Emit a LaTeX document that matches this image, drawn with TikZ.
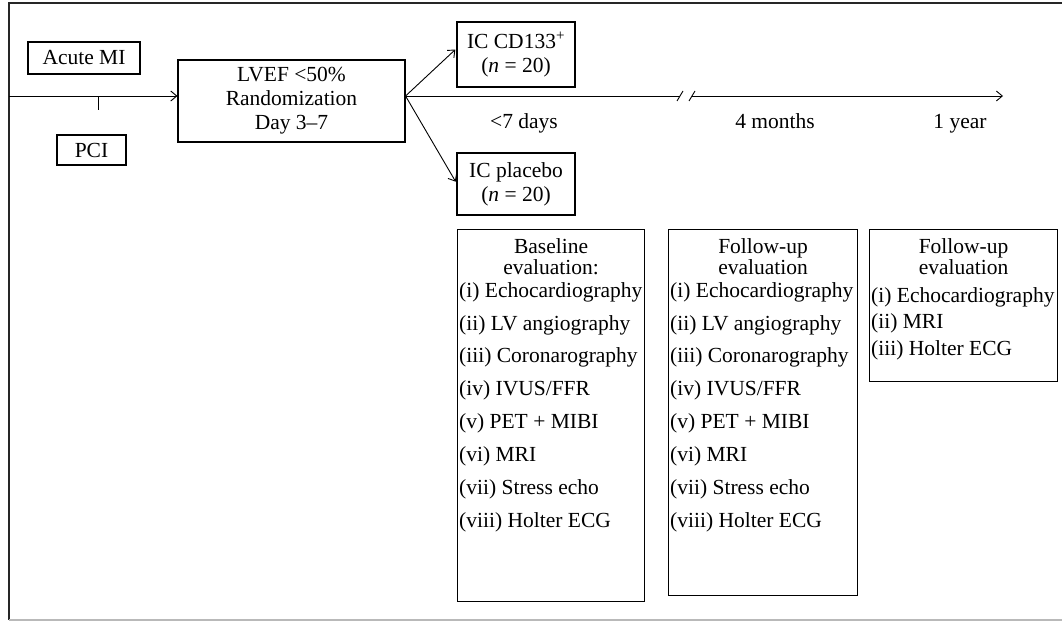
\documentclass[tikz,border=0pt]{standalone}
\usepackage{fontspec}
\setmainfont{Liberation Serif}
\usetikzlibrary{arrows.meta, positioning}

\begin{document}
\begin{tikzpicture}[x=1pt, y=-1pt,
  every node/.style = {font=\fontsize{21.5}{24}\selectfont},
  box/.style = {draw, line width=1.1pt, align=center, inner sep=0pt},
  evalbox/.style = {draw, line width=1.1pt, anchor=north west, inner sep=0pt},
  head/.style = {align=center, inner sep=0pt, font=\fontsize{21.5}{21}\selectfont},
  item/.style = {anchor=west, inner sep=0pt},
  arr/.style = {-{Straight Barb[length=6pt, width=10pt]}, line width=0.9pt},
  lbl/.style = {anchor=base, inner sep=1pt}
]
\useasboundingbox (0,0) rectangle (1062,621);

% ---- frame ----
\draw[line width=1.6pt, black!85] (9,620) -- (9,3) -- (1062,3);
\draw[line width=1.2pt, gray!55] (9,620) -- (1062,620);

% ---- left column ----
\node[box, minimum width=112pt, minimum height=32pt] (acute) at (84,58) {Acute MI};
\node[box, minimum width=69pt, minimum height=30pt]  (pci)   at (91.5,150) {PCI};
\node[box, minimum width=227pt, minimum height=82pt] (lvef)  at (291.5,101)
  {LVEF <50\%\\Randomization\\Day 3--7};

% ---- timeline ----
\coordinate (start) at (9,96);
\coordinate (fork)  at (lvef.east |- start);
\coordinate (brk1)  at (680,96);
\coordinate (brk2)  at (692,96);
\coordinate (tend)  at (1003,96);
\coordinate (tick)  at (98,97);

\draw[arr] (start) -- (start -| lvef.west);
\draw[line width=0.9pt] (tick) -- ++(0,13);
\draw[line width=0.9pt] (fork) -- (brk1);
\draw[line width=0.9pt] ([shift={(-3,5)}]brk1) -- ([shift={(3,-5)}]brk1);
\draw[line width=0.9pt] ([shift={(-3,5)}]brk2) -- ([shift={(3,-5)}]brk2);
\draw[arr] (brk2) -- (tend);

\node[lbl] (d7) at (524,128) {<7 days};
\node[lbl] (m4) at (775,128) {4 months};
\node[lbl] (y1) at (960,128) {1 year};

% ---- study arms ----
\node[box, minimum width=118pt, minimum height=65pt] (cd)      at (516,54.5)
  {IC CD133\textsuperscript{+}\\(\textit{n} = 20)};
\node[box, minimum width=118pt, minimum height=62pt] (placebo) at (516,184)
  {IC placebo\\(\textit{n} = 20)};

\draw[arr, shorten >=1.5pt] (fork) -- ([yshift=6pt]cd.west);
\draw[arr, shorten >=1.5pt] (fork) -- ([yshift=1pt]placebo.west);

% ---- evaluation boxes ----
\node[evalbox, minimum width=187pt, minimum height=372pt] (base) at (457,229) {};
\node[evalbox, minimum width=189pt, minimum height=366pt] (fu1)  at (668,229) {};
\node[evalbox, minimum width=188pt, minimum height=152pt] (fu2)  at (869,229) {};

\node[head] (base-h) at ([yshift=-28pt]base.north) {Baseline\\evaluation:};
\node[head] (fu1-h)  at ([yshift=-28pt]fu1.north)  {Follow-up\\evaluation};
\node[head] (fu2-h)  at ([yshift=-28pt]fu2.north)  {Follow-up\\evaluation};

\foreach \bx/\x in {base/459, fu1/670}
  \foreach \txt [count=\i] in {{(i) Echocardiography}, {(ii) LV angiography},
      {(iii) Coronarography}, {(iv) IVUS/FFR}, {(v) PET + MIBI}, {(vi) MRI},
      {(vii) Stress echo}, {(viii) Holter ECG}}
    \node[item] (\bx-\i) at (\x, {292+32.9*(\i-1)}) {\txt};

\foreach \txt [count=\i] in {{(i) Echocardiography}, {(ii) MRI}, {(iii) Holter ECG}}
  \node[item] (fu2-\i) at (871, {297+26.5*(\i-1)}) {\txt};

\end{tikzpicture}
\end{document}
